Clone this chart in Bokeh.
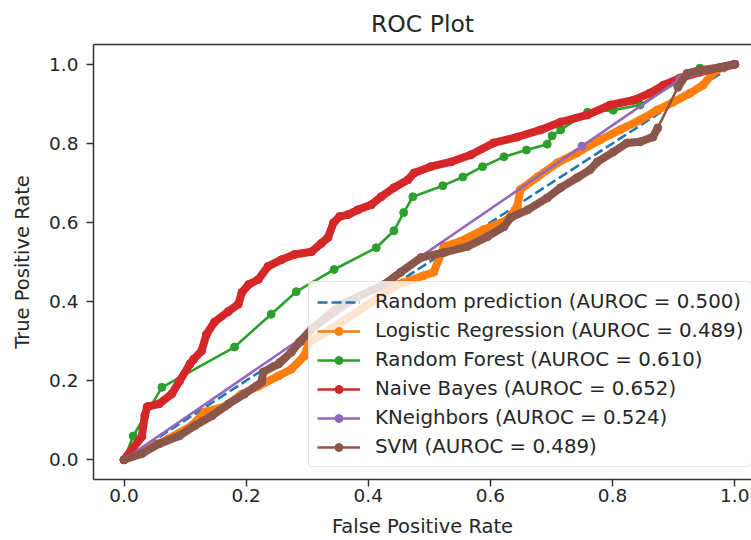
from bokeh.plotting import figure
from bokeh.models import Legend, LegendItem, LinearAxis, FixedTicker, Range1d
from bokeh.embed import file_html
from bokeh.resources import INLINE

labels = ["Random prediction (AUROC = 0.500)",
          "Logistic Regression (AUROC = 0.489)",
          "Random Forest (AUROC = 0.610)",
          "Naive Bayes (AUROC = 0.652)",
          "KNeighbors (AUROC = 0.524)",
          "SVM (AUROC = 0.489)"]

rand_fpr = [0.0, 1.0]
rand_tpr = [0.0, 1.0]

lr_fpr = [0, 0.046, 0.073, 0.111, 0.132, 0.165, 0.193, 0.220, 0.253, 0.274, 0.295, 0.303, 0.35, 0.40,
          0.449, 0.49, 0.507, 0.524, 0.551, 0.589, 0.628, 0.644, 0.649, 0.677, 0.710, 0.742, 0.780,
          0.812, 0.845, 0.873, 0.899, 0.927, 0.948, 0.964, 0.976, 1.0]
lr_tpr = [0, 0.033, 0.053, 0.086, 0.121, 0.134, 0.166, 0.186, 0.212, 0.229, 0.262, 0.297, 0.34, 0.393,
          0.443, 0.465, 0.474, 0.539, 0.552, 0.582, 0.607, 0.640, 0.683, 0.715, 0.751, 0.776, 0.809,
          0.834, 0.859, 0.884, 0.904, 0.927, 0.947, 0.977, 0.99, 1.0]

rf_fpr = [0, 0.015, 0.062, 0.181, 0.241, 0.282, 0.344, 0.413, 0.442, 0.458, 0.473, 0.522, 0.555, 0.587,
          0.622, 0.659, 0.693, 0.701, 0.715, 0.759, 0.801, 0.845, 0.943, 1.0]
rf_tpr = [0, 0.06, 0.183, 0.285, 0.368, 0.425, 0.481, 0.536, 0.579, 0.625, 0.665, 0.693, 0.715, 0.741,
          0.766, 0.783, 0.798, 0.819, 0.834, 0.879, 0.884, 0.897, 0.99, 1.0]

nb_fpr = [0, 0.029, 0.034, 0.038, 0.057, 0.078, 0.091, 0.108, 0.114, 0.127,
          0.135, 0.148, 0.171, 0.187, 0.193, 0.204, 0.220, 0.236, 0.258, 0.279,
          0.307, 0.323, 0.334, 0.343, 0.353, 0.367, 0.383, 0.405, 0.421, 0.442,
          0.465, 0.475, 0.502, 0.535, 0.568, 0.605, 0.644, 0.682, 0.715, 0.759,
          0.796, 0.834, 0.861, 0.883, 0.910, 0.943, 0.976, 1.0]
nb_tpr = [0, 0.058, 0.111, 0.134, 0.141, 0.166, 0.199, 0.242, 0.254, 0.275,
          0.317, 0.348, 0.375, 0.393, 0.423, 0.443, 0.456, 0.489, 0.506, 0.519,
          0.526, 0.547, 0.562, 0.599, 0.615, 0.62, 0.632, 0.645, 0.665, 0.688,
          0.708, 0.725, 0.741, 0.753, 0.771, 0.801, 0.816, 0.834, 0.854, 0.872,
          0.897, 0.909, 0.927, 0.947, 0.965, 0.980, 0.992, 1.0]

kn_fpr = [0.0, 0.75, 0.91, 1.0]
kn_tpr = [0.0, 0.793, 0.962, 1.0]

svm_fpr = [0, 0.029, 0.057, 0.09, 0.116, 0.144, 0.171, 0.197, 0.225, 0.228,
           0.253, 0.274, 0.287, 0.307, 0.356, 0.426, 0.453, 0.486, 0.524, 0.562,
           0.595, 0.622, 0.633, 0.661, 0.693, 0.715, 0.742, 0.763, 0.775, 0.801,
           0.824, 0.845, 0.866, 0.874, 0.907, 0.922, 0.943, 0.976, 1.0]
svm_tpr = [0, 0.015, 0.040, 0.06, 0.086, 0.111, 0.141, 0.166, 0.196, 0.222,
           0.242, 0.272, 0.297, 0.33, 0.393, 0.443, 0.474, 0.511, 0.524, 0.539,
           0.564, 0.589, 0.612, 0.632, 0.662, 0.688, 0.713, 0.733, 0.753, 0.778,
           0.801, 0.804, 0.816, 0.839, 0.942, 0.977, 0.985, 0.992, 1.0]

x_ticks = [0.0, 0.2, 0.4, 0.6, 0.8, 1.0]
y_ticks = [0.0, 0.2, 0.4, 0.6, 0.8, 1.0]

FONT = "DejaVu Sans"
TXT = "#262626"

p = figure(width=751, height=540, output_backend="svg", toolbar_location=None,
           x_range=Range1d(-0.05, 1.0275), y_range=Range1d(-0.05, 1.05),
           min_border_left=93, min_border_right=0, min_border_top=44, min_border_bottom=60,
           title="ROC Plot")
p.outline_line_color = None
p.grid.visible = False
p.background_fill_color = "white"
p.border_fill_color = "white"

p.title.align = "center"
p.title.text_font = FONT
p.title.text_font_size = "23.5px"
p.title.text_font_style = "normal"
p.title.text_color = TXT
p.title.standoff = 13

for ax in (p.xaxis[0], p.yaxis[0]):
    ax.axis_line_color = "#333333"
    ax.axis_line_width = 1.5
    ax.major_tick_line_color = "#333333"
    ax.major_tick_line_width = 1.5
    ax.major_tick_out = 7
    ax.major_tick_in = 0
    ax.minor_tick_line_color = None
    ax.major_label_text_font = FONT
    ax.major_label_text_font_size = "18.5px"
    ax.major_label_text_color = TXT
    ax.axis_label_text_font = FONT
    ax.axis_label_text_font_size = "19.5px"
    ax.axis_label_text_font_style = "normal"
    ax.axis_label_text_color = TXT

p.xaxis[0].ticker = FixedTicker(ticks=x_ticks)
p.yaxis[0].ticker = FixedTicker(ticks=y_ticks)
p.xaxis[0].major_label_overrides = {t: f"{t:.1f}" for t in x_ticks}
p.yaxis[0].major_label_overrides = {t: f"{t:.1f}" for t in y_ticks}
p.xaxis[0].axis_label = "False Positive Rate"
p.yaxis[0].axis_label = "True Positive Rate"
p.xaxis[0].major_label_standoff = 2
p.yaxis[0].major_label_standoff = 8
p.xaxis[0].axis_label_standoff = 10
p.yaxis[0].axis_label_standoff = 12

top = LinearAxis(ticker=FixedTicker(ticks=[]), major_label_text_font_size="0px",
                 axis_line_color="#333333", axis_line_width=1.5,
                 major_tick_line_color=None, minor_tick_line_color=None)
p.add_layout(top, "above")

colors = ["#1f77b4", "#ff7f0e", "#2ca02c", "#d62728", "#9467bd", "#8c564b"]
LW = 2.6
MS = 8
HALO = 8

items = []
r = p.line(rand_fpr, rand_tpr, line_color=colors[0], line_width=LW, line_dash="10 4")
items.append(LegendItem(label=labels[0], renderers=[r]))

# dense-marker series get a wide band of the same colour (look of many '.' markers)
halo_parts = {1: [(0, None)], 2: [], 3: [(0, None)], 4: [], 5: [(0, 34), (34, None)]}

series = [(lr_fpr, lr_tpr), (rf_fpr, rf_tpr), (nb_fpr, nb_tpr),
          (kn_fpr, kn_tpr), (svm_fpr, svm_tpr)]
for i, (xs, ys) in enumerate(series, start=1):
    c = colors[i]
    for a, b in halo_parts[i]:
        p.line(xs[a:b], ys[a:b], line_color=c, line_width=HALO, line_join="round", line_cap="round")
    rl = p.line(xs, ys, line_color=c, line_width=LW, line_join="round")
    rs = p.scatter(xs, ys, marker="circle", size=MS, fill_color=c, line_color=c)
    items.append(LegendItem(label=labels[i], renderers=[rl, rs]))

legend = Legend(items=items, location=(215, 12))
legend.label_text_font = FONT
legend.label_text_font_size = "19.8px"
legend.label_text_color = TXT
legend.glyph_width = 43
legend.glyph_height = 20
legend.label_height = 20
legend.label_standoff = 15
legend.spacing = 6
legend.padding = 8
legend.margin = 0
legend.background_fill_color = "white"
legend.background_fill_alpha = 0.8
legend.border_line_color = "#cccccc"
legend.border_line_width = 1
if "border_radius" in Legend.properties():
    legend.border_radius = 4
p.add_layout(legend, "center")

with open("out.html", "w") as f:
    f.write(file_html(p, INLINE))
